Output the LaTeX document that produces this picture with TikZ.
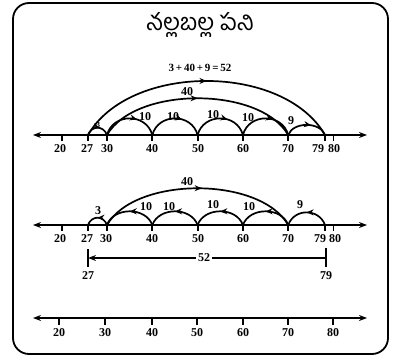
\documentclass[tikz,border=0pt]{standalone}
\usepackage{fontspec}
\setmainfont{Liberation Serif}
\newfontfamily\telugufont[Script=Telugu]{Hind Guntur}
\usetikzlibrary{arrows.meta,decorations.markings,calc}
\tikzset{
  axis/.style={line width=2pt,{Stealth[length=8pt,width=6pt]}-{Stealth[length=8pt,width=6pt]}},
  tk/.style={line width=1.8pt},
  arcline/.style={line width=1.7pt},
  fwd/.style={postaction={decorate,decoration={markings,mark=at position #1 with {\arrow{Stealth[length=7pt,width=6pt]}}}}},
  bwd/.style={postaction={decorate,decoration={markings,mark=at position #1 with {\arrowreversed{Stealth[length=7pt,width=6pt]}}}}},
  num/.style={font=\fontsize{12}{13}\selectfont\bfseries,inner sep=0pt},
  lab/.style={font=\fontsize{11}{12}\selectfont\bfseries,inner sep=0pt},
}
\begin{document}
\begin{tikzpicture}[x=1pt,y=-1pt]
\useasboundingbox (0,0) rectangle (393,358);
\draw[line width=1.8pt,rounded corners=16pt] (13,3) rectangle (388,354);
\node (title) at (200,25) {\telugufont\fontsize{23.5}{26}\selectfont నల్లబల్ల పని};

% coordinates
\foreach \v/\p in {20/61.7,27/88,30/107,40/152.3,50/197.6,60/242.9,70/288.2,79/325,80/333.5}{
  \coordinate (a\v) at (\p,135);
  \coordinate (b\v) at (\p,225);
}
\foreach \v/\p in {20/59,30/105,40/152,50/197,60/243,70/288,80/333}{
  \coordinate (c\v) at (\p,318);
}
\coordinate (aL) at (33,135); \coordinate (aR) at (367,135);
\coordinate (bL) at (33,225); \coordinate (bR) at (367,225);
\coordinate (cL) at (33,318); \coordinate (cR) at (367,318);

% ---------- line 1 ----------
\draw[axis] (aL) -- (aR);
\foreach \v in {20,27,30,40,50,60,70,79,80}{\draw[tk] (a\v) -- ++(0,6);}
\foreach \v/\p in {20/60,27/87,30/107,40/152,50/198,60/243,70/288,79/318,80/334}{
  \node[num] (la\v) at (\p,149) {\v};}
\draw[arcline,fwd=0.5] (a27) to[out=60,in=120,looseness=0.9] (a79);
\node[lab] (s1) at (200,68) {3\,+\,40\,+\,9\,=\,52};
\draw[arcline,fwd=0.5] (a30) to[out=60,in=120,looseness=0.8] (a70);
\node[num] (f1) at (187,92) {40};
\draw[arcline,fwd=0.6] (a27) to[out=70,in=110,looseness=1.4] (a30);
\node[num,font=\fontsize{8}{9}\selectfont\bfseries] (t1) at (98,125) {3};
\foreach \s/\e in {30/40,40/50,50/60,60/70}{
  \draw[arcline,fwd=0.62] (a\s) to[out=75,in=105,looseness=1.3] (a\e);}
\node[num] (p1) at (145,117) {10};
\node[num] (p2) at (173,117) {10};
\node[num] (p3) at (213,115) {10};
\node[num] (p4) at (248,118) {10};
\draw[arcline,fwd=0.6] (a70) to[out=70,in=110,looseness=1] (a79);
\node[num] (n1) at (291,121) {9};

% ---------- line 2 ----------
\draw[axis] (bL) -- (bR);
\foreach \v in {20,27,30,40,50,60,70,79,80}{\draw[tk] (b\v) -- ++(0,6);}
\foreach \v/\p in {20/60,27/87,30/106,40/152,50/198,60/243,70/288,79/320,80/335}{
  \node[num] (lb\v) at (\p,239) {\v};}
\draw[arcline,fwd=0.52] (b30) to[out=60,in=120,looseness=0.8] (b70);
\node[num] (f2) at (187,182) {40};
\draw[arcline,bwd=0.5] (b27) to[out=70,in=110,looseness=1.4] (b30);
\node[num] (t2) at (98,211) {3};
\foreach \s/\e in {30/40,40/50,50/60,60/70}{
  \draw[arcline,bwd=0.5] (b\s) to[out=70,in=110,looseness=1.1] (b\e);}
\node[num] (q1) at (146,207) {10};
\node[num] (q2) at (169,207) {10};
\node[num] (q3) at (213,205) {10};
\node[num] (q4) at (249,207) {10};
\draw[arcline,bwd=0.5] (b70) to[out=70,in=110,looseness=1.25] (b79);
\node[num] (n2) at (300,205) {9};

% bracket 27..79
\coordinate (k27) at (88,258);
\coordinate (k79) at (326,258);
\draw[line width=1.5pt] (88,249) -- (88,267);
\draw[line width=2.2pt] (326,248) -- (326,267);
\node[num,fill=white,inner xsep=2pt] (m52) at (204,258) {52};
\draw[line width=1.7pt,{Stealth[length=8pt,width=6pt]}-] (k27) -- (m52);
\draw[line width=1.7pt] (m52) -- (k79);
\node[num] (e27) at (88,276) {27};
\node[num] (e79) at (326,276) {79};

% ---------- line 3 ----------
\draw[axis] (cL) -- (cR);
\foreach \v in {20,30,40,50,60,70,80}{\draw[line width=2.2pt] (c\v) -- ++(0,7);}
\foreach \v in {20,30,40,50,60,70,80}{\node[num] (lc\v) at ($(c\v)+(0,15)$) {\v};}
\end{tikzpicture}
\end{document}
